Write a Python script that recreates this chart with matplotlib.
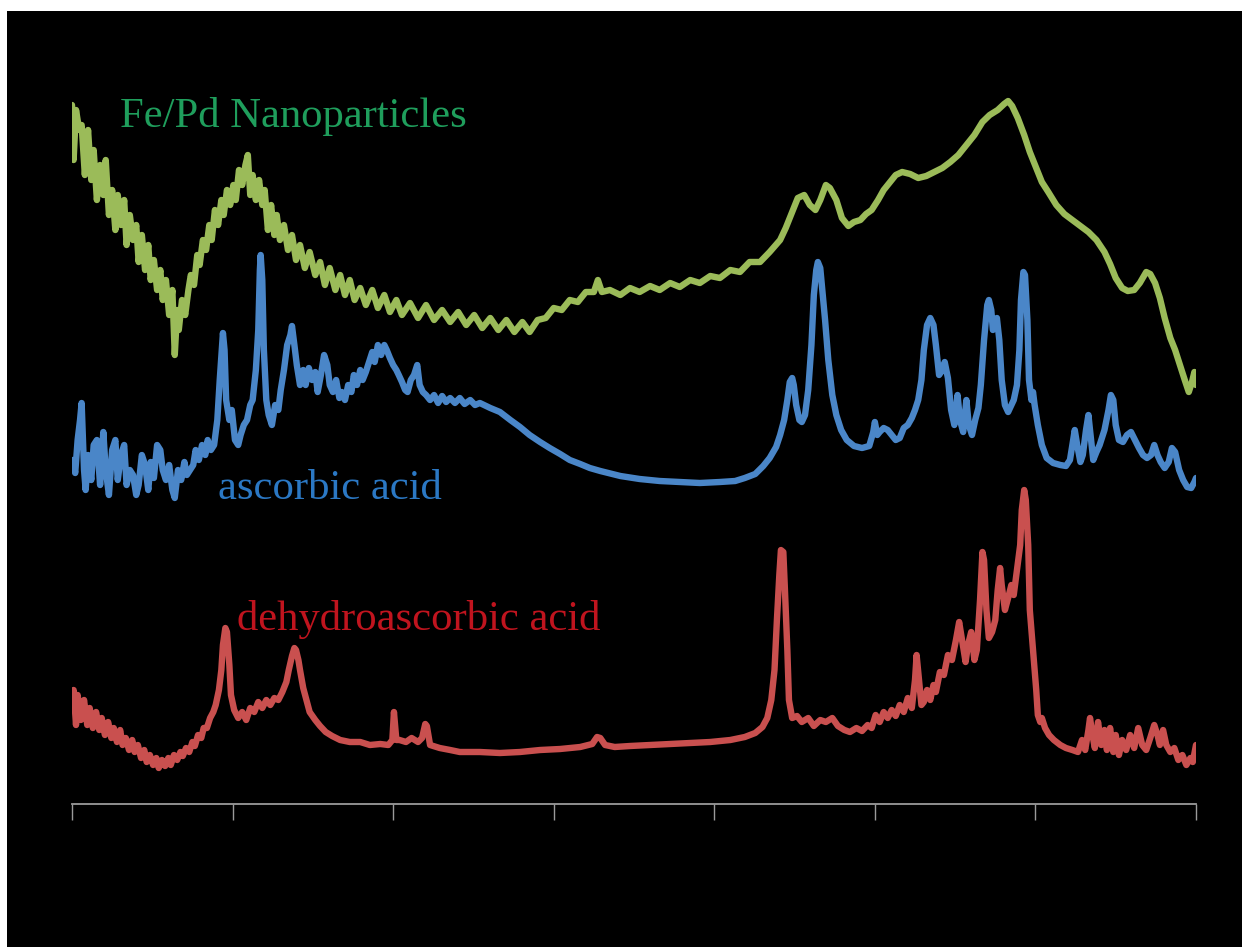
import matplotlib
matplotlib.use("Agg")
import matplotlib.pyplot as plt
from matplotlib.patches import Rectangle

# Raman shift (cm^-1) and intensity (a.u., stacked offsets) for each sample
fepd_shift = [200, 202, 205, 209, 212, 216, 220, 224, 227, 231, 235, 239, 242, 246, 250, 254, 257, 261, 265, 268,
              272, 276, 280, 283, 287, 291, 295, 298, 302, 306, 310, 313, 317, 321, 325, 328, 331, 333, 337, 341,
              345, 348, 352, 356, 359, 363, 367, 371, 374, 378, 382, 386, 389, 393, 397, 401, 404, 408, 412, 416,
              419, 422, 425, 429, 433, 437, 440, 444, 448, 452, 455, 459, 464, 469, 474, 479, 484, 490, 496, 503,
              509, 515, 521, 528, 534, 540, 546, 552, 559, 566, 574, 581, 589, 596, 604, 611, 621, 631, 641, 651,
              661, 671, 681, 691, 701, 711, 721, 731, 741, 751, 761, 770, 780, 790, 800, 810, 820, 830, 840, 850,
              855, 860, 870, 883, 895, 907, 920, 932, 945, 957, 970, 982, 995, 1007, 1020, 1032, 1044, 1057, 1069, 1082,
              1089, 1097, 1104, 1112, 1119, 1126, 1132, 1139, 1144, 1152, 1159, 1167, 1174, 1182, 1189, 1196, 1204, 1211, 1219, 1226,
              1234, 1244, 1254, 1264, 1274, 1284, 1294, 1304, 1314, 1324, 1334, 1343, 1353, 1361, 1366, 1371, 1378, 1386, 1393, 1401,
              1408, 1416, 1426, 1436, 1446, 1456, 1466, 1476, 1486, 1493, 1500, 1508, 1515, 1523, 1530, 1538, 1543, 1549, 1555, 1561,
              1568, 1574, 1580, 1586, 1591, 1595, 1598, 1600]
fepd_int = [699, 644, 694, 674, 679, 629, 674, 624, 654, 604, 639, 609, 644, 589, 614, 574, 609, 579, 604, 559,
            589, 564, 579, 542, 569, 534, 559, 524, 544, 514, 534, 504, 524, 489, 514, 449, 494, 474, 504, 489,
            514, 529, 519, 549, 539, 564, 554, 579, 564, 594, 579, 604, 589, 614, 599, 619, 604, 634, 619, 639,
            649, 609, 629, 604, 624, 599, 614, 574, 599, 569, 589, 564, 579, 554, 569, 544, 559, 536, 552, 529,
            542, 519, 536, 514, 529, 509, 524, 504, 516, 499, 514, 496, 509, 492, 504, 489, 501, 486, 499, 484,
            494, 482, 492, 479, 489, 476, 486, 474, 484, 472, 482, 472, 484, 486, 496, 494, 504, 502, 512, 512,
            524, 512, 514, 509, 516, 512, 518, 514, 521, 517, 524, 521, 528, 526, 534, 532, 542, 542, 552, 564,
            576, 592, 606, 609, 599, 594, 604, 619, 616, 604, 586, 578, 582, 584, 590, 594, 604, 614, 622, 629,
            632, 630, 626, 628, 632, 636, 642, 649, 659, 669, 682, 689, 694, 700, 703, 698, 686, 669, 652, 636,
            622, 612, 599, 590, 584, 578, 572, 564, 552, 540, 526, 516, 513, 514, 521, 532, 530, 521, 506, 486,
            466, 454, 439, 424, 412, 422, 432, 419]

ascorbic_shift = [201, 204, 207, 210, 212, 215, 217, 220, 224, 227, 231, 235, 239, 242, 246, 250, 254, 257, 261, 265,
                  268, 272, 276, 280, 283, 287, 291, 295, 298, 302, 306, 310, 313, 317, 321, 325, 328, 332, 336, 340,
                  343, 347, 351, 354, 358, 362, 366, 369, 373, 377, 381, 384, 387, 388, 390, 392, 396, 399, 403, 407,
                  410, 414, 418, 422, 425, 429, 432, 434, 435, 437, 439, 442, 445, 449, 453, 457, 460, 464, 468, 472,
                  474, 477, 480, 484, 488, 491, 495, 499, 503, 506, 510, 514, 518, 521, 525, 529, 533, 536, 540, 544,
                  548, 551, 555, 559, 562, 566, 570, 574, 577, 581, 585, 589, 592, 596, 600, 604, 607, 611, 615, 618,
                  622, 626, 630, 633, 637, 641, 646, 651, 656, 661, 666, 671, 677, 683, 689, 696, 702, 708, 721, 733,
                  746, 758, 770, 783, 795, 808, 820, 833, 845, 858, 883, 907, 932, 957, 982, 1007, 1026, 1038, 1051, 1061,
                  1069, 1077, 1082, 1087, 1091, 1094, 1097, 1099, 1102, 1106, 1109, 1113, 1117, 1121, 1124, 1127, 1129, 1132, 1134, 1138,
                  1142, 1147, 1152, 1158, 1165, 1174, 1184, 1193, 1198, 1200, 1203, 1206, 1211, 1216, 1221, 1226, 1231, 1236, 1241, 1246,
                  1250, 1254, 1258, 1261, 1265, 1269, 1273, 1276, 1280, 1284, 1287, 1291, 1295, 1299, 1303, 1306, 1310, 1314, 1317, 1321,
                  1325, 1329, 1332, 1336, 1340, 1342, 1345, 1347, 1350, 1352, 1355, 1358, 1362, 1366, 1370, 1373, 1377, 1380, 1382, 1385,
                  1387, 1390, 1392, 1395, 1397, 1399, 1403, 1408, 1414, 1422, 1431, 1438, 1443, 1447, 1449, 1452, 1456, 1459, 1463, 1466,
                  1468, 1472, 1476, 1480, 1486, 1491, 1494, 1497, 1500, 1504, 1509, 1514, 1519, 1524, 1529, 1534, 1539, 1544, 1548, 1552,
                  1556, 1561, 1566, 1570, 1574, 1579, 1584, 1589, 1594, 1598, 1600]
ascorbic_int = [344, 331, 364, 384, 401, 334, 314, 349, 324, 359, 364, 319, 372, 334, 309, 354, 364, 324, 349, 359,
                319, 334, 329, 309, 319, 349, 339, 314, 342, 326, 359, 354, 334, 324, 339, 314, 306, 334, 324, 342,
                329, 334, 339, 354, 344, 359, 349, 364, 354, 359, 384, 424, 459, 471, 454, 404, 384, 394, 364, 359,
                369, 379, 384, 399, 404, 434, 474, 534, 549, 524, 454, 404, 389, 379, 399, 394, 414, 434, 459, 469,
                478, 459, 439, 419, 434, 419, 436, 424, 432, 412, 429, 449, 439, 419, 412, 424, 406, 412, 404, 419,
                412, 429, 419, 434, 424, 432, 442, 452, 442, 459, 449, 459, 454, 446, 439, 434, 429, 422, 414, 412,
                424, 429, 439, 419, 412, 409, 404, 409, 401, 408, 402, 406, 401, 406, 400, 404, 399, 401, 396, 392,
                384, 377, 369, 362, 356, 350, 344, 340, 336, 333, 328, 325, 323, 322, 321, 322, 323, 326, 330, 338,
                346, 357, 369, 384, 404, 422, 426, 419, 399, 384, 382, 389, 414, 459, 509, 534, 542, 536, 519, 484,
                444, 409, 389, 374, 364, 358, 356, 358, 372, 382, 369, 372, 376, 374, 369, 364, 366, 376, 379, 386,
                394, 404, 424, 454, 479, 486, 479, 459, 429, 434, 442, 426, 394, 379, 409, 384, 372, 404, 379, 369,
                384, 396, 419, 464, 499, 504, 494, 474, 479, 486, 464, 424, 399, 392, 399, 404, 419, 454, 504, 532,
                529, 484, 424, 404, 412, 399, 379, 359, 346, 341, 339, 338, 344, 364, 374, 359, 342, 349, 374, 389,
                374, 344, 352, 359, 374, 394, 409, 404, 379, 364, 362, 369, 372, 364, 356, 349, 346, 349, 359, 349,
                342, 336, 342, 356, 352, 334, 324, 317, 316, 322, 326]

dehydro_shift = [200, 202, 205, 207, 211, 215, 219, 222, 226, 230, 234, 237, 241, 245, 249, 252, 256, 260, 263, 267,
                 271, 275, 278, 282, 286, 290, 293, 297, 301, 305, 308, 312, 316, 320, 323, 327, 331, 335, 338, 342,
                 346, 350, 353, 357, 361, 364, 368, 372, 376, 379, 383, 386, 388, 391, 393, 396, 398, 402, 407, 412,
                 417, 422, 427, 432, 437, 442, 447, 452, 457, 462, 467, 470, 474, 477, 479, 482, 484, 488, 492, 496,
                 503, 509, 516, 524, 534, 546, 559, 571, 584, 594, 599, 601, 604, 608, 616, 623, 631, 636, 640, 642,
                 646, 658, 671, 683, 708, 733, 758, 783, 808, 833, 848, 854, 858, 864, 876, 895, 920, 945, 970, 995,
                 1020, 1038, 1051, 1060, 1066, 1071, 1075, 1078, 1081, 1083, 1086, 1088, 1091, 1093, 1097, 1103, 1109, 1117, 1124, 1132,
                 1139, 1147, 1154, 1162, 1169, 1177, 1184, 1191, 1196, 1201, 1206, 1211, 1216, 1221, 1226, 1231, 1236, 1241, 1246, 1250,
                 1252, 1255, 1258, 1261, 1265, 1269, 1273, 1276, 1281, 1286, 1291, 1296, 1301, 1305, 1309, 1313, 1316, 1320, 1324, 1327,
                 1331, 1334, 1336, 1339, 1342, 1346, 1350, 1353, 1356, 1358, 1362, 1366, 1370, 1373, 1377, 1381, 1383, 1386, 1388, 1391,
                 1393, 1397, 1401, 1403, 1406, 1408, 1412, 1417, 1423, 1431, 1438, 1446, 1453, 1458, 1462, 1466, 1468, 1471, 1474, 1478,
                 1482, 1486, 1489, 1493, 1497, 1500, 1504, 1508, 1513, 1518, 1523, 1528, 1533, 1538, 1543, 1548, 1552, 1555, 1559, 1563,
                 1568, 1573, 1578, 1583, 1588, 1593, 1596, 1600]
dehydro_int = [99, 114, 79, 109, 84, 104, 79, 96, 76, 92, 74, 86, 69, 82, 66, 76, 62, 74, 59, 66,
               54, 64, 52, 59, 46, 54, 42, 49, 39, 46, 36, 44, 38, 46, 39, 49, 44, 52, 48, 56,
               52, 62, 58, 69, 66, 76, 76, 86, 92, 99, 114, 134, 159, 176, 172, 139, 109, 94, 86, 92,
               84, 96, 92, 102, 96, 104, 99, 106, 104, 112, 122, 134, 148, 156, 154, 144, 134, 116, 104, 92,
               84, 78, 72, 68, 64, 62, 62, 59, 60, 59, 64, 92, 64, 64, 62, 66, 62, 66, 80, 78,
               59, 56, 54, 52, 52, 51, 52, 54, 55, 57, 60, 67, 66, 59, 57, 58, 59, 60, 61, 62,
               64, 67, 71, 77, 86, 104, 134, 184, 229, 254, 252, 214, 154, 104, 86, 88, 82, 86, 78, 84,
               82, 86, 78, 74, 72, 76, 73, 79, 76, 89, 82, 92, 86, 94, 88, 99, 92, 106, 96, 124,
               149, 124, 99, 102, 114, 104, 119, 112, 132, 129, 149, 144, 164, 182, 162, 142, 159, 172, 144, 154,
               204, 252, 244, 194, 166, 172, 184, 214, 236, 219, 194, 206, 219, 209, 234, 259, 294, 314, 304, 259,
               194, 154, 114, 89, 82, 86, 76, 69, 64, 59, 56, 54, 52, 64, 54, 74, 86, 69, 56, 82,
               59, 74, 54, 76, 52, 69, 49, 64, 54, 69, 56, 76, 59, 54, 66, 79, 69, 59, 74, 59,
               52, 56, 44, 49, 39, 46, 42, 59]

series = [
    (fepd_shift, fepd_int, "#9BBB59"),
    (ascorbic_shift, ascorbic_int, "#4A86C8"),
    (dehydro_shift, dehydro_int, "#C9504F"),
]

labels = [
    ("Fe/Pd Nanoparticles", 120, 127, "#1F9E5C"),
    ("ascorbic acid", 218, 499, "#2B78C4"),
    ("dehydroascorbic acid", 237, 630, "#C0141E"),
]

W, H = 1242, 947
fig = plt.figure(figsize=(W / 100, H / 100), dpi=100, facecolor="white")

# black slide background, kept beneath the axes
fig.patches.append(Rectangle((7 / W, 0), 1 - 7 / W, 1 - 11 / H, transform=fig.transFigure,
                             facecolor="black", edgecolor="none", zorder=-10))

ax = fig.add_axes([72 / W, (H - 804) / H, 1124 / W, (804 - 11) / H])
ax.set_zorder(5)
ax.patch.set_alpha(0)
for x, y, c in series:
    ax.plot(x, y, color=c, lw=4.6, solid_joinstyle="round", solid_capstyle="round")

ax.set_xlim(200, 1600)
ax.set_ylim(0, 793)
ax.set_xticks([200, 400, 600, 800, 1000, 1200, 1400, 1600])
ax.set_xticklabels([])
ax.set_yticks([])
for s in ("top", "right", "left"):
    ax.spines[s].set_visible(False)
ax.spines["bottom"].set_color("#9A9A9A")
ax.spines["bottom"].set_linewidth(1.3)
ax.tick_params(axis="x", direction="out", length=11.5, width=1.0, color="#9A9A9A")

for text, px, py, col in labels:
    fig.text(px / W, 1 - py / H, text, color=col, fontsize=30.7, family="Liberation Serif",
             ha="left", va="baseline", zorder=10)

fig.savefig("out.png", dpi=100, facecolor=fig.get_facecolor())
